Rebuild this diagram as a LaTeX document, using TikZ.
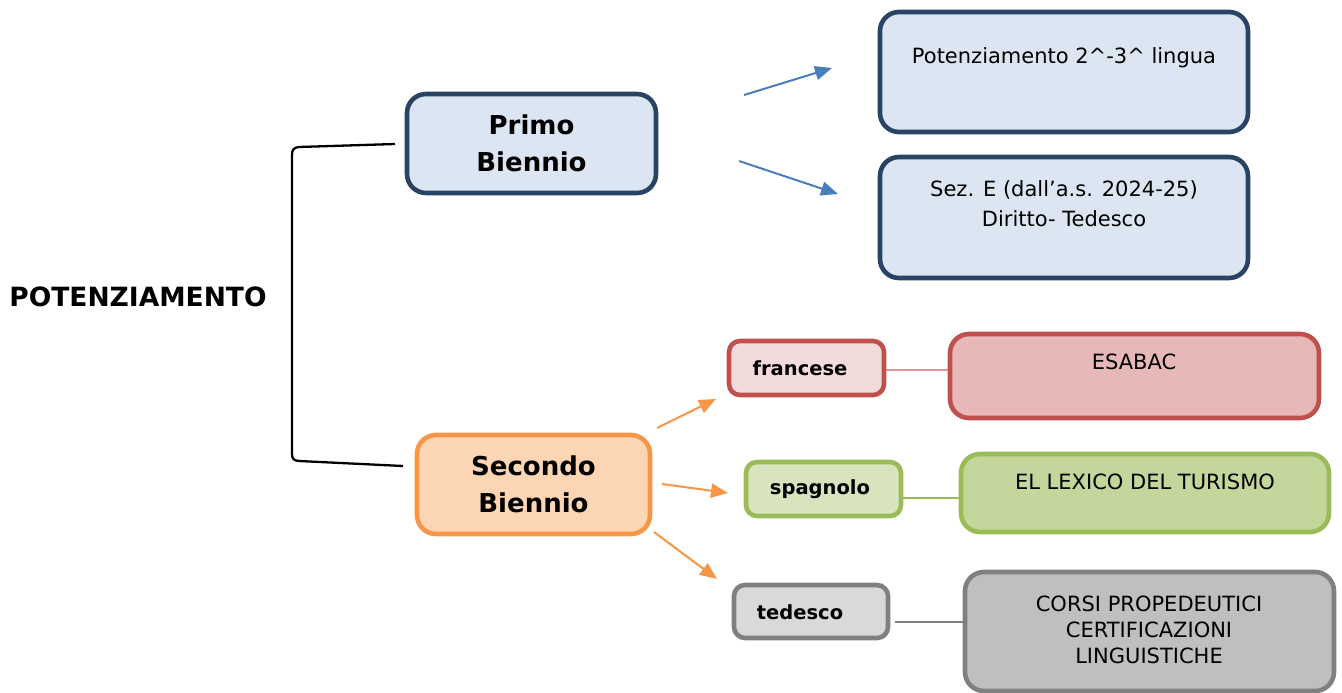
\documentclass[tikz,border=0pt]{standalone}
\usepackage{fontspec}
\setmainfont{DejaVu Sans}
\usetikzlibrary{arrows.meta}
\definecolor{navy}{RGB}{41,67,100}
\definecolor{lblue}{RGB}{220,230,242}
\definecolor{orng}{RGB}{247,150,70}
\definecolor{lorng}{RGB}{252,213,181}
\definecolor{redb}{RGB}{192,80,77}
\definecolor{lred}{RGB}{242,220,219}
\definecolor{mred}{RGB}{230,185,184}
\definecolor{redln}{RGB}{217,150,148}
\definecolor{grn}{RGB}{155,187,89}
\definecolor{lgrn}{RGB}{215,228,189}
\definecolor{mgrn}{RGB}{195,214,155}
\definecolor{gryb}{RGB}{128,128,128}
\definecolor{lgry}{RGB}{217,217,217}
\definecolor{mgry}{RGB}{191,191,191}
\definecolor{arblue}{RGB}{74,126,187}
\tikzset{
  box/.style={draw, line width=4.6pt, rounded corners=19pt, inner sep=0pt},
  sbox/.style={draw, line width=4.6pt, rounded corners=11pt, inner sep=0pt},
  bigbold/.style={font=\fontsize{26}{37}\selectfont\bfseries, align=center},
  smallbold/.style={font=\fontsize{19.5}{24}\selectfont\bfseries},
  body/.style={font=\fontsize{21}{30}\selectfont, align=center, inner sep=0pt},
  barrow/.style={draw=arblue, line width=2pt, -{Triangle[length=17pt,width=14pt]}, fill=arblue},
  oarrow/.style={draw=orng, line width=2pt, -{Triangle[length=17pt,width=14pt]}, fill=orng},
}
\begin{document}
\begin{tikzpicture}[x=1pt,y=-1pt]
\useasboundingbox (0,0) rectangle (1342,693);
% left title
\node[font=\fontsize{26.5}{30}\selectfont\bfseries, inner sep=0pt] (title) at (138,297) {POTENZIAMENTO};
% main boxes
\node[box, draw=navy, fill=lblue, minimum width=249pt, minimum height=99pt, bigbold] (primo) at (531.5,143.5) {Primo\\Biennio};
\node[box, draw=orng, fill=lorng, minimum width=233pt, minimum height=99pt, bigbold] (secondo) at (533.5,484.5) {Secondo\\Biennio};
% top right boxes
\node[box, draw=navy, fill=lblue, minimum width=368pt, minimum height=120pt] (pot) at (1064,72) {};
\node[body] (potT) at (1064,58) {Potenziamento 2\^{}-3\^{} lingua};
\node[box, draw=navy, fill=lblue, minimum width=368pt, minimum height=121pt] (sez) at (1064,217.5) {};
\node[body] (sezT) at (1064,204) {Sez. E (dall’a.s. 2024-25)\\Diritto- Tedesco};
% language boxes
\node[sbox, draw=redb, fill=lred, minimum width=155pt, minimum height=54pt] (fra) at (806.5,368) {};
\node[smallbold, inner sep=0pt] (fraT) at (800,368) {francese};
\node[sbox, draw=grn, fill=lgrn, minimum width=155pt, minimum height=54pt] (spa) at (823.5,489) {};
\node[smallbold, inner sep=0pt] (spaT) at (820,489) {spagnolo};
\node[sbox, draw=gryb, fill=lgry, minimum width=154pt, minimum height=53pt] (ted) at (811,611.5) {};
\node[smallbold, inner sep=0pt] (tedT) at (800,612) {tedesco};
% right boxes
\node[box, draw=redb, fill=mred, minimum width=369pt, minimum height=84pt] (esa) at (1134.5,376) {};
\node[body] (esaT) at (1134,362) {ESABAC};
\node[box, draw=grn, fill=mgrn, minimum width=368pt, minimum height=78pt] (lex) at (1145,493) {};
\node[body] (lexT) at (1145,482) {EL LEXICO DEL TURISMO};
\node[box, draw=gryb, fill=mgry, minimum width=369pt, minimum height=119pt] (cor) at (1149.5,631.5) {};
\node[body, font=\fontsize{21}{26}\selectfont] (corT) at (1149,630) {CORSI PROPEDEUTICI\\CERTIFICAZIONI\\LINGUISTICHE};
% bracket
\coordinate (bT) at (395,144);
\coordinate (bB) at (403,466);
\draw[line width=2.3pt] (bT) -- (299,147) .. controls (294,147.5) and (292,149.5) .. (292,155) -- (292,454) .. controls (292,459) and (294,460.5) .. (299,461) -- (bB);
% blue arrows
\coordinate (a1s) at (744,95); \coordinate (a1e) at (832,68);
\coordinate (a2s) at (739,161); \coordinate (a2e) at (838,194);
\draw[barrow] (a1s) -- (a1e);
\draw[barrow] (a2s) -- (a2e);
% orange arrows
\coordinate (o1s) at (657,428); \coordinate (o1e) at (716,399);
\coordinate (o2s) at (662,484); \coordinate (o2e) at (728,493);
\coordinate (o3s) at (654,532); \coordinate (o3e) at (717,579);
\draw[oarrow] (o1s) -- (o1e);
\draw[oarrow] (o2s) -- (o2e);
\draw[oarrow] (o3s) -- (o3e);
% connecting lines
\draw[redln, line width=1.5pt] (fra.east |- 0,370) -- (esa.west |- 0,370);
\draw[grn, line width=2pt] (spa.east |- 0,498) -- (lex.west |- 0,498);
\coordinate (tedR) at (895,622);
\draw[gryb, line width=2pt] (tedR) -- (cor.west |- tedR);
\end{tikzpicture}
\end{document}
